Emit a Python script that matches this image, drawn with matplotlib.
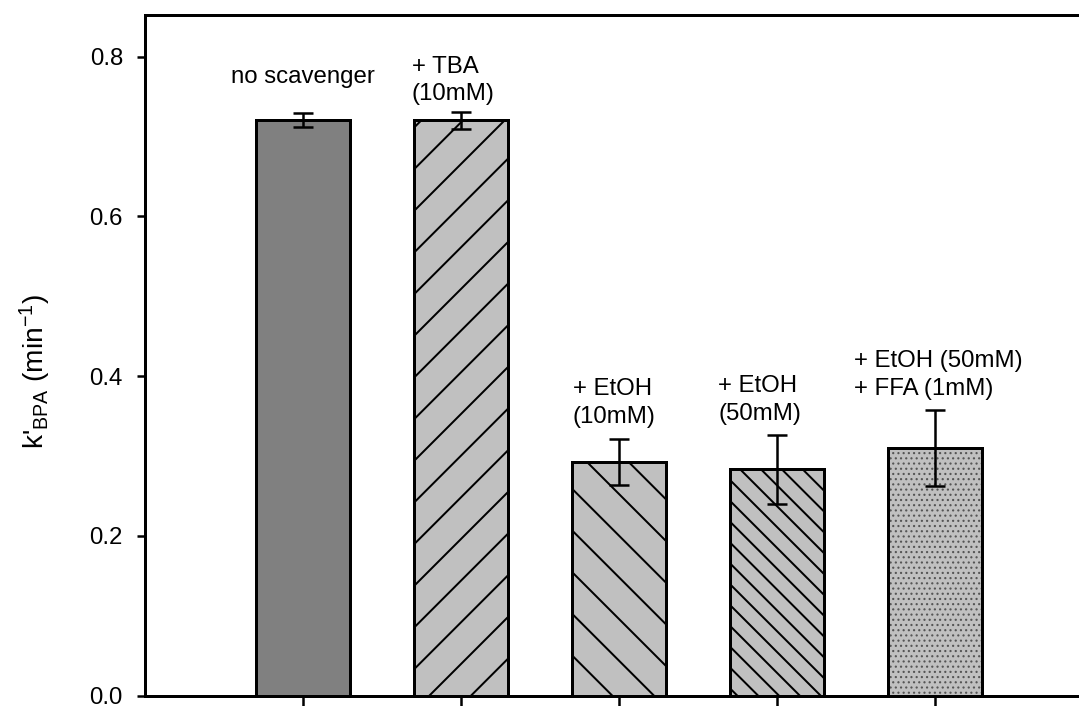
import matplotlib
matplotlib.use('Agg')
import matplotlib.pyplot as plt

# data
conditions = ["no scavenger", "+ TBA\n(10mM)", "+ EtOH\n(10mM)",
              "+ EtOH\n(50mM)", "+ EtOH (50mM)\n+ FFA (1mM)"]
k_bpa = [0.721, 0.720, 0.292, 0.283, 0.310]
k_err = [0.0087, 0.011, 0.029, 0.043, 0.048]
y_ticks = [0.0, 0.2, 0.4, 0.6, 0.8]

# styling per bar
bar_colors = ["#808080", "#c0c0c0", "#c0c0c0", "#c0c0c0", "#c0c0c0"]
bar_hatches = [None, "/", "\\", "\\\\", "...."]
hatch_colors = ["black", "black", "black", "black", "#555555"]
hatch_widths = [2, 2, 2, 2, 1.2]   # px
label_dx = [0.0, -0.05, -0.03, -0.11, 0.02]
label_y = [0.767, 0.745, 0.341, 0.345, 0.376]   # baseline of last line

# hatch spacing scales with dpi, so dpi is picked to match the hatch density
DPI = 125
def px(p):
    return p * 72.0 / DPI

plt.rcParams['font.family'] = ['Liberation Sans', 'DejaVu Sans']
plt.rcParams['mathtext.fontset'] = 'custom'
plt.rcParams['mathtext.rm'] = 'Liberation Sans'
plt.rcParams['mathtext.it'] = 'Liberation Sans:italic'

fig = plt.figure(figsize=(1079 / DPI, 706 / DPI), dpi=DPI)
ax = fig.add_axes([145 / 1079, 10.5 / 706, 948 / 1079, 680.5 / 706])

x = list(range(1, len(k_bpa) + 1))
for xi, v, c, h, hc, hw in zip(x, k_bpa, bar_colors, bar_hatches,
                               hatch_colors, hatch_widths):
    # fill + hatch first, then the black outline on top
    with plt.rc_context({'hatch.linewidth': px(hw)}):
        ax.bar(xi, v, width=0.6, color=c, edgecolor=hc, linewidth=0,
               hatch=h, zorder=2)
    ax.bar(xi, v, width=0.6, fill=False, edgecolor="black",
           linewidth=px(3), zorder=2)
ax.errorbar(x, k_bpa, yerr=k_err, fmt="none", ecolor="black",
            elinewidth=px(2.5), capsize=px(10), capthick=px(2.5), zorder=3)

for xi, txt, dx, ly in zip(x, conditions, label_dx, label_y):
    ax.text(xi + dx, ly, txt, ha="center", va="baseline", multialignment="left",
            fontsize=px(24), linespacing=1.35)

ax.set_xlim(0, 6)
ax.set_ylim(0, 0.852)
ax.set_xticks(x)
ax.set_xticklabels([])
ax.set_yticks(y_ticks)
ax.set_yticklabels([f"{t:.1f}" for t in y_ticks])
ax.tick_params(axis="y", direction="out", length=px(8), width=px(2.5),
               labelsize=px(24), pad=px(14))
ax.tick_params(axis="x", direction="out", length=px(11), width=px(2.5))
for s in ax.spines.values():
    s.set_linewidth(px(3))

fig.text(35 / 1079, 1 - 372 / 706,
         r"k'$_{\mathrm{BPA}}$ (min$^{\mathrm{-1}}$)",
         rotation=90, ha="center", va="center", fontsize=px(28))

plt.savefig("out.png", dpi=DPI)
plt.close()
